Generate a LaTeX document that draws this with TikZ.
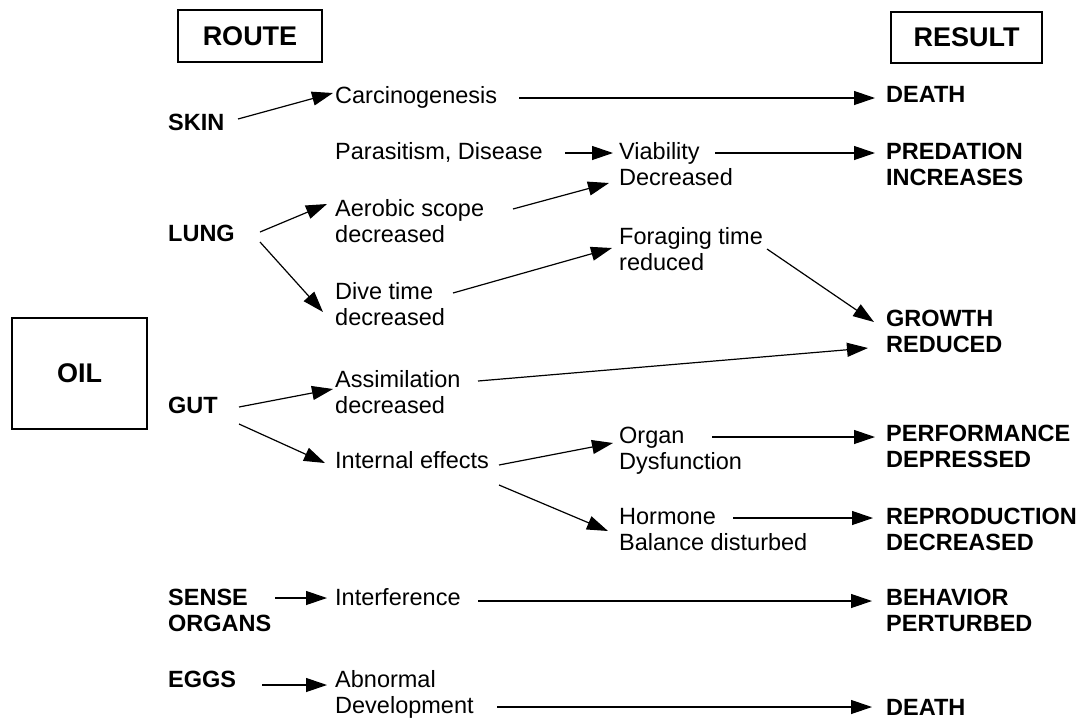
\documentclass[tikz,border=0pt]{standalone}
\usepackage{fontspec}
\setmainfont{Liberation Sans}
\usetikzlibrary{arrows.meta}
\tikzset{
  lbl/.style={anchor=base west, inner sep=0pt, font=\fontsize{23.5}{26.8}\selectfont},
  bl/.style={lbl, font=\fontsize{23.5}{26.8}\selectfont\bfseries},
  hdr/.style={draw, line width=1.3pt, inner sep=0pt, font=\fontsize{27}{30}\selectfont\bfseries},
  arr/.style={line width=1.2pt, -{Triangle[length=21pt,width=14pt]}},
}
\newcommand{\two}[2]{\begin{tabular}[t]{@{}l@{}}#1\\#2\end{tabular}}
\begin{document}
\begin{tikzpicture}[x=1pt,y=-1pt]
\path[use as bounding box] (0,0) rectangle (1080,721);
% header boxes
\node[hdr, minimum width=144pt, minimum height=52pt] (route) at (250,36) {ROUTE};
\node[hdr, minimum width=151pt, minimum height=51pt] (result) at (966.5,37.5) {RESULT};
\node[hdr, minimum width=135pt, minimum height=111pt] (oil) at (79.5,373.5) {OIL};
% routes
\node[bl] (skin) at (168,130) {SKIN};
\node[bl] (lung) at (168,241) {LUNG};
\node[bl] (gut) at (168,413) {GUT};
\node[bl] (sense) at (168,605) {\two{SENSE}{ORGANS}};
\node[bl] (eggs) at (168,687) {EGGS};
% first effects
\node[lbl] (carc) at (335,103) {Carcinogenesis};
\node[lbl] (para) at (335,159) {Parasitism, Disease};
\node[lbl] (aero) at (335,216) {\two{Aerobic scope}{decreased}};
\node[lbl] (dive) at (335,299) {\two{Dive time}{decreased}};
\node[lbl] (assim) at (335,387) {\two{Assimilation}{decreased}};
\node[lbl] (inter) at (335,468) {Internal effects};
\node[lbl] (interf) at (335,605) {Interference};
\node[lbl] (abn) at (335,687) {\two{Abnormal}{Development}};
% second effects
\node[lbl] (viab) at (619,159) {\two{Viability}{Decreased}};
\node[lbl] (forag) at (619,244) {\two{Foraging time}{reduced}};
\node[lbl] (organ) at (619,443) {\two{Organ}{Dysfunction}};
\node[lbl] (horm) at (619,524) {\two{Hormone}{Balance disturbed}};
% results
\node[bl] (death1) at (886,102) {DEATH};
\node[bl] (pred) at (886,159) {\two{PREDATION}{INCREASES}};
\node[bl] (growth) at (886,326) {\two{GROWTH}{REDUCED}};
\node[bl] (perf) at (886,441) {\two{PERFORMANCE}{DEPRESSED}};
\node[bl] (repr) at (886,524) {\two{REPRODUCTION}{DECREASED}};
\node[bl] (behav) at (886,605) {\two{BEHAVIOR}{PERTURBED}};
\node[bl] (death2) at (886,715) {DEATH};
% connectors
\draw[arr] ([shift={(70,-11)}]skin.base west) -- ([shift={(-2,-10)}]carc.base west);
\draw[arr] ([shift={(184,-5)}]carc.base west) -- ([shift={(-11,-4)}]death1.base west);
\draw[arr] ([shift={(230,-6)}]para.base west) -- ([shift={(-6,-6)}]viab.base west);
\draw[arr] ([shift={(96,-6)}]viab.base west) -- ([shift={(-11,-6)}]pred.base west);
\draw[arr] ([shift={(92,-9)}]lung.base west) -- ([shift={(-8,-12)}]aero.base west);
\draw[arr] ([shift={(92,1)}]lung.base west) -- ([shift={(-12,13)}]dive.base west);
\draw[arr] ([shift={(178,-7)}]aero.base west) -- ([shift={(-10,24)}]viab.base west);
\draw[arr] ([shift={(118,-6)}]dive.base west) -- ([shift={(-7,4)}]forag.base west);
\draw[arr] ([shift={(148,5)}]forag.base west) -- ([shift={(-12,-4)}]growth.base west);
\draw[arr] ([shift={(143,-6)}]assim.base west) -- ([shift={(-18,22)}]growth.base west);
\draw[arr] ([shift={(71,-6)}]gut.base west) -- ([shift={(-2,2)}]assim.base west);
\draw[arr] ([shift={(71,11)}]gut.base west) -- ([shift={(-10,-5)}]inter.base west);
\draw[arr] ([shift={(164,-3)}]inter.base west) -- ([shift={(-6,0)}]organ.base west);
\draw[arr] ([shift={(164,17)}]inter.base west) -- ([shift={(-11,7)}]horm.base west);
\draw[arr] ([shift={(93,-6)}]organ.base west) -- ([shift={(-11,-4)}]perf.base west);
\draw[arr] ([shift={(114,-6)}]horm.base west) -- ([shift={(-13,-6)}]repr.base west);
\draw[arr] ([shift={(107,-7)}]sense.base west) -- ([shift={(-8,-7)}]interf.base west);
\draw[arr] ([shift={(143,-4)}]interf.base west) -- ([shift={(-14,-4)}]behav.base west);
\draw[arr] ([shift={(94,-2)}]eggs.base west) -- ([shift={(-8,-2)}]abn.base west);
\draw[arr] ([shift={(162,20)}]abn.base west) -- ([shift={(-14,-8)}]death2.base west);
\end{tikzpicture}
\end{document}
